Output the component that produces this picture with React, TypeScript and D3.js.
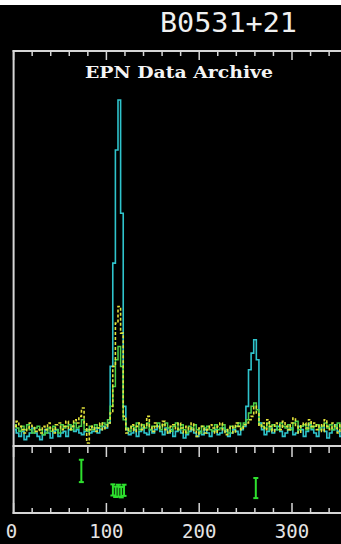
import React from 'react';
import * as d3 from 'd3';

const W = 341;
const H = 544;
const NBINS = 128;
const BIN_WIDTH = 360 / NBINS;

// Total intensity (cyan), normalised to peak = 100
const cyanI = [
  1, 0, -1, 0.5, -2, -1, 0, 1.5, 0, -1,
  -2, -0.5, 1, 0, -1.5, 0.5, 1, -1, 0, 0.5,
  -1, 1, 2, 0.5, 1, 0, -0.5, 0.5, 1, 0,
  0.5, 1.5, 0, 1, 2, 1.5,
  3, 20, 51, 85, 100, 66, 8, 1,
  -0.5, 0, 1, -1, 0.5, 1.5, 0, -0.5, 1, 0,
  1, 2, 0.5, -0.5, 1.5, 0, 1, -1, 0.5, 1,
  0, -1.5, -0.5, 0.5, 1, 0, -1, 0.5, -0.5, 1,
  0, -1, 0.5, 1, -0.5, 0, 1.5, 0.5, -1, 0,
  1, 0.5, -0.5, 1, 2,
  8, 19, 24, 28, 22, 3,
  1, -0.5, 0.5, 1.5, 0, 1, 2, 0.5, -1, 0,
  1, 1.5, -0.5, 0, 2, 1, -1, 0.5, 2.5, 1,
  0, -1, 1.5, 2, 0.5, -1.5, 0, 1, 2.5, 0.5, -1, 1, 0,
];

// Linear polarisation (green)
const greenL = [
  2.5, 1.5, 0.5, 2, 1, 2.5, 1, 0, 1.5, 2,
  1, -0.5, 0, 1.5, 0.5, 2, 1, 0, 2.5, 1.5,
  2, 2.5, 1, 3, 1.5, 2, 4, 1, 0.5, 2,
  1, 2.5, 1.5, 2, 3, 2.5,
  4, 8, 14, 22, 26, 20, 4, 1.5,
  0.5, 2, 1.5, 3, 1, 2.5, 1.5, 3, 1, 2,
  2, 3, 1, 2.5, 3, 1.5, 0.5, 2, 3, 1,
  2.5, 1, 0, 2, 1.5, 2.5, 1, 0, 2, 1.5,
  2, 1, 0.5, 2.5, 1, 1.5, 2.5, 1, 0, 2,
  1.5, 2, 3, 1.5, 3,
  4, 6, 8, 9, 7, 2.5,
  2, 1.5, 3, 1, 2.5, 2, 1, 3, 2, 1.5,
  2.5, 1, 3, 3.5, 1, 2, 2.5, 1, 3, 1.5,
  2, 2.5, 1, 2, 3, 1.5, 2.5, 1, 2, 3, 1.5, 2, 2.5,
];

// Second polarisation profile (yellow, dashed)
const yellowV = [
  2, 3.5, 2, 1, 0, 1.5, 3, 2, 0.5, 1,
  0, 2, 1, 3, 1.5, 0, 2.5, 3, 1, 2,
  3.5, 1, 2, 4, 3, 5, 7.5, 3, -3, 1,
  2, 0.5, 1.5, 3, 1, 2,
  3, 6, 20, 33, 38, 30, 5, 0,
  1.5, 2.5, 0.5, 2, 3, 1, 2, 5, 2, 0.5,
  3, 1.5, 2, 3.5, 1, 0, 2, 2.5, 1, 3,
  1.5, 0, 2, 1, 3, 0.5, -1, 1.5, 2, 0,
  1, 2.5, 1.5, 0, 2, 3, 1, -0.5, 1.5, 2,
  0, 3, 2, 1, 2.5,
  3, 4, 5, 8, 6, 2,
  3, 1, 4, 2, 0.5, 3, 2.5, 1, 3.5, 2,
  1, 3, 4.5, 2, 0, 2.5, 3, 1.5, 4, 2,
  3, 1, 2.5, 0.5, 4, 2, 1, 3, 1.5, 0, 2.5, 3.5, 1,
];

// Position angle points (longitude deg, PA deg, error deg)
const paLon = [73, 107, 110, 113, 116, 119, 261];
const paVal = [23, -28, -33, -30, -34, -29, -23];
const paErr = [30, 15, 14, 16, 14, 15, 27];

const xTickLabels = [0, 100, 200, 300];
const minorTickValues = d3.range(0, 361, 20);
const titleText = 'B0531+21';
const archiveText = 'EPN Data Archive';

const FRAME = '#d6d6d6';

export default function App() {
  const x = d3.scaleLinear().domain([0, 360]).range([13.6, 13.6 + 360 * 0.928]);
  const y = d3.scaleLinear().domain([0, 100]).range([433, 100]);
  const pa = d3.scaleLinear().domain([-90, 90]).range([513, 446]);

  const mk = (arr: number[]) =>
    d3
      .line<number>()
      .x((_, i) => x((i + 0.5) * BIN_WIDTH))
      .y((d) => y(d))
      .curve(d3.curveStep)(arr) || '';

  const top = 51;
  const mid = 446;
  const bot = 513;
  const left = x(0);

  return (
    <div style={{ position: 'fixed', left: 0, top: 0, width: W, height: H, background: '#000' }}>
      <svg width={W} height={H} style={{ display: 'block' }}>
        <rect x={0} y={0} width={W} height={H} fill="#000" />
        <rect x={0} y={0} width={W} height={5} fill="#fff" />
        <text
          x={228.5}
          y={32}
          textAnchor="middle"
          fill="#f0f0f0"
          fontFamily="DejaVu Sans Mono"
          fontSize={27}
          textLength={137}
          lengthAdjust="spacingAndGlyphs"
        >
          {titleText}
        </text>
        {/* frame */}
        <line x1={left} x2={left} y1={top - 1} y2={bot + 1} stroke={FRAME} strokeWidth={2} />
        <line x1={left - 1} x2={W} y1={top} y2={top} stroke={FRAME} strokeWidth={2} />
        <line x1={left - 1} x2={W} y1={mid} y2={mid} stroke={FRAME} strokeWidth={2} />
        <line x1={left - 1} x2={W} y1={bot} y2={bot} stroke={FRAME} strokeWidth={2} />
        {minorTickValues.map((t) => {
          const major = t % 100 === 0;
          const tx = x(t);
          return (
            <g key={t}>
              <line x1={tx} x2={tx} y1={top} y2={top + (major ? 9 : 5)} stroke={FRAME} strokeWidth={1.5} />
              <line x1={tx} x2={tx} y1={mid} y2={mid + (major ? 11 : 7)} stroke={FRAME} strokeWidth={1.5} />
              <line x1={tx} x2={tx} y1={bot} y2={bot - (major ? 10 : 5)} stroke={FRAME} strokeWidth={1.5} />
            </g>
          );
        })}
        {xTickLabels.map((t) => (
          <text
            key={t}
            x={t === 0 ? x(t) - 2 : x(t)}
            y={538}
            textAnchor="middle"
            fill="#e4e4e4"
            fontFamily="DejaVu Sans Mono"
            fontSize={19}
          >
            {t}
          </text>
        ))}
        <text
          x={179}
          y={78}
          textAnchor="middle"
          fill="#f4f4f4"
          fontFamily="DejaVu Serif"
          fontWeight="bold"
          fontSize={16}
          textLength={188}
          lengthAdjust="spacingAndGlyphs"
        >
          {archiveText}
        </text>
        {/* profiles */}
        <path d={mk(cyanI)} fill="none" stroke="#2fc4cc" strokeWidth={1.6} />
        <path d={mk(greenL)} fill="none" stroke="#4ccf4a" strokeWidth={1.5} />
        <path d={mk(yellowV)} fill="none" stroke="#e2e23a" strokeWidth={1.6} strokeDasharray="3 2" />
        {/* position angles */}
        {paLon.map((lon, i) => {
          const cx = x(lon);
          const y1 = pa(paVal[i] + paErr[i]);
          const y2 = pa(paVal[i] - paErr[i]);
          return (
            <g key={i} stroke="#2ee02e" strokeWidth={2}>
              <line x1={cx} x2={cx} y1={y1} y2={y2} />
              <line x1={cx - 2.5} x2={cx + 2.5} y1={y1} y2={y1} />
              <line x1={cx - 2.5} x2={cx + 2.5} y1={y2} y2={y2} />
            </g>
          );
        })}
      </svg>
    </div>
  );
}
